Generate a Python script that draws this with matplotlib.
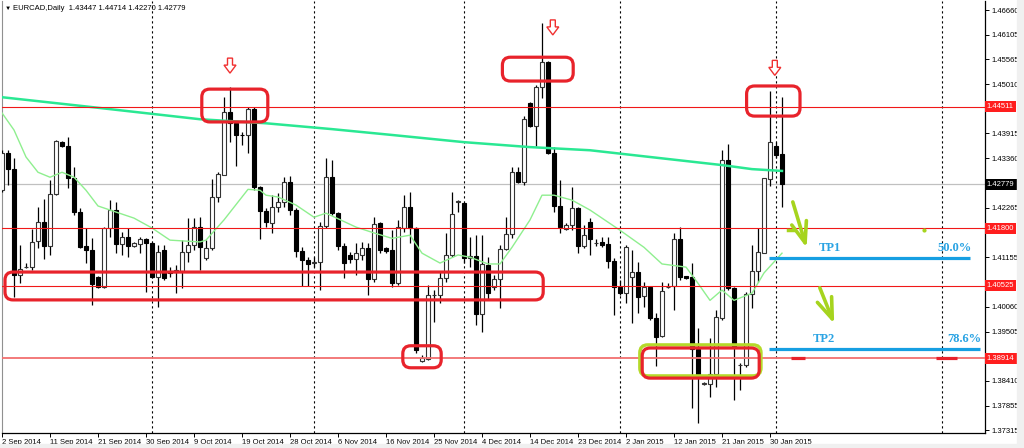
import numpy as np
import matplotlib
matplotlib.use("Agg")
import matplotlib.pyplot as plt
import matplotlib.transforms as mtransforms
from matplotlib.patches import FancyBboxPatch, Polygon, Rectangle

# EURCAD daily candles, 2 Sep 2014 .. 2 Feb 2015 (one bar per trading day, Sun-Fri)
opens = [1.4265, 1.4348, 1.4312, 1.4076, 1.4094, 1.4094, 1.4152, 1.4194, 1.4141, 1.4256,
         1.4372, 1.4363, 1.4292, 1.4216, 1.4141, 1.4132, 1.4072, 1.4049, 1.4181, 1.4221,
         1.4145, 1.4161, 1.4141, 1.4145, 1.4156, 1.4147, 1.4072, 1.4132, 1.4085, 1.4083,
         1.4085, 1.4127, 1.4143, 1.4183, 1.4114, 1.4136, 1.4250, 1.4299, 1.4439, 1.4414,
         1.4389, 1.4388, 1.4445, 1.4272, 1.4218, 1.4192, 1.4227, 1.4239, 1.4283, 1.4221,
         1.4130, 1.4110, 1.4104, 1.4105, 1.4185, 1.4294, 1.4214, 1.4141, 1.4121, 1.4112,
         1.4121, 1.4136, 1.4067, 1.4192, 1.4136, 1.4132, 1.4058, 1.4181, 1.4227, 1.4181,
         1.3885, 1.3889, 1.4031, 1.4032, 1.4069, 1.4121, 1.4239, 1.4236, 1.4114, 1.4118,
         1.3989, 1.4098, 1.4049, 1.4067, 1.4134, 1.4167, 1.4305, 1.4283, 1.4459, 1.4408,
         1.4494, 1.4550, 1.4348, 1.4230, 1.4178, 1.4187, 1.4225, 1.4141, 1.4194, 1.4147,
         1.4150, 1.4145, 1.4107, 1.4049, 1.4036, 1.4072, 1.4083, 1.4029, 1.4049, 1.3980,
         1.3940, 1.4049, 1.4052, 1.4156, 1.4074, 1.4072, 1.3911, 1.3834, 1.3834, 1.3856,
         1.3980, 1.4332, 1.4047, 1.3876, 1.3876, 1.4034, 1.4085, 1.4125, 1.4290, 1.4363,
         1.43447]
highs = [1.4354, 1.4354, 1.4336, 1.4143, 1.4103, 1.4178, 1.4227, 1.4245, 1.4288, 1.4376,
         1.4374, 1.4383, 1.4316, 1.4225, 1.4181, 1.4158, 1.4074, 1.4183, 1.4243, 1.4239,
         1.4172, 1.4181, 1.4150, 1.4161, 1.4158, 1.4150, 1.4143, 1.4143, 1.4094, 1.4098,
         1.4154, 1.4203, 1.4203, 1.4205, 1.4154, 1.4290, 1.4305, 1.4472, 1.4494, 1.4417,
         1.4394, 1.4450, 1.4450, 1.4274, 1.4225, 1.4254, 1.4259, 1.4294, 1.4296, 1.4225,
         1.4138, 1.4116, 1.4116, 1.4194, 1.4336, 1.4332, 1.4216, 1.4147, 1.4127, 1.4147,
         1.4150, 1.4147, 1.4205, 1.4194, 1.4138, 1.4176, 1.4199, 1.4254, 1.4261, 1.4183,
         1.3898, 1.4054, 1.4043, 1.4083, 1.4170, 1.4261, 1.4243, 1.4239, 1.4161, 1.4165,
         1.4165, 1.4116, 1.4076, 1.4143, 1.4205, 1.4316, 1.4316, 1.4430, 1.4461, 1.4499,
         1.4637, 1.4552, 1.4361, 1.4288, 1.4192, 1.4272, 1.4227, 1.4187, 1.4203, 1.4156,
         1.4161, 1.4161, 1.4114, 1.4065, 1.4143, 1.4132, 1.4105, 1.4061, 1.4049, 1.3992,
         1.4061, 1.4058, 1.4170, 1.4183, 1.4074, 1.4103, 1.3958, 1.3838, 1.3936, 1.3998,
         1.4354, 1.4368, 1.4049, 1.3880, 1.4038, 1.4143, 1.4181, 1.4292, 1.4486, 1.4372,
         1.44714]
lows = [1.4261, 1.4276, 1.4027, 1.4058, 1.4092, 1.4087, 1.4136, 1.4112, 1.4121, 1.4254,
        1.4361, 1.4270, 1.4210, 1.4136, 1.4103, 1.4009, 1.4047, 1.4047, 1.4161, 1.4125,
        1.4121, 1.4116, 1.4138, 1.4125, 1.4038, 1.4069, 1.4005, 1.4065, 1.4072, 1.4036,
        1.4047, 1.4105, 1.4132, 1.4087, 1.4110, 1.4132, 1.4239, 1.4299, 1.4372, 1.4319,
        1.4365, 1.4348, 1.4265, 1.4156, 1.4183, 1.4170, 1.4216, 1.4227, 1.4210, 1.4116,
        1.4052, 1.4052, 1.4094, 1.4043, 1.4181, 1.4210, 1.4132, 1.4069, 1.4103, 1.4076,
        1.4110, 1.4032, 1.4061, 1.4125, 1.4125, 1.4049, 1.4054, 1.4172, 1.4147, 1.3903,
        1.3883, 1.3887, 1.3972, 1.4014, 1.4061, 1.4116, 1.4216, 1.4103, 1.4094, 1.3965,
        1.3949, 1.4020, 1.4043, 1.4003, 1.4132, 1.4158, 1.4281, 1.4276, 1.4405, 1.4363,
        1.4470, 1.4345, 1.4216, 1.4170, 1.4176, 1.4176, 1.4125, 1.4136, 1.4121, 1.4141,
        1.4138, 1.4092, 1.3987, 1.4032, 1.4014, 1.3969, 1.3992, 1.4005, 1.3976, 1.3874,
        1.3938, 1.4047, 1.3998, 1.4065, 1.4067, 1.3780, 1.3747, 1.3832, 1.3805, 1.3827,
        1.3976, 1.4043, 1.3798, 1.3820, 1.3871, 1.4003, 1.4061, 1.4125, 1.4274, 1.4336,
        1.42270]
closes = [1.4348, 1.4312, 1.4076, 1.4089, 1.4095, 1.4150, 1.4194, 1.4141, 1.4256, 1.4374,
          1.4363, 1.4292, 1.4216, 1.4138, 1.4132, 1.4056, 1.4049, 1.4181, 1.4221, 1.4145,
          1.4161, 1.4141, 1.4147, 1.4156, 1.4147, 1.4072, 1.4127, 1.4069, 1.4081, 1.4087,
          1.4127, 1.4143, 1.4183, 1.4138, 1.4136, 1.4250, 1.4301, 1.4439, 1.4414, 1.4388,
          1.4387, 1.4445, 1.4272, 1.4218, 1.4194, 1.4227, 1.4239, 1.4283, 1.4221, 1.4130,
          1.4110, 1.4101, 1.4106, 1.4185, 1.4294, 1.4214, 1.4141, 1.4103, 1.4112, 1.4125,
          1.4136, 1.4067, 1.4190, 1.4132, 1.4130, 1.4058, 1.4183, 1.4227, 1.4181, 1.3909,
          1.3891, 1.4032, 1.4032, 1.4069, 1.4121, 1.4212, 1.4240, 1.4114, 1.4118, 1.3989,
          1.4101, 1.4036, 1.4067, 1.4134, 1.4167, 1.4305, 1.4283, 1.4423, 1.4408, 1.4494,
          1.4550, 1.4348, 1.4230, 1.4183, 1.4187, 1.4225, 1.4141, 1.4165, 1.4156, 1.4148,
          1.4143, 1.4107, 1.4049, 1.4036, 1.4138, 1.4083, 1.4027, 1.4049, 1.3980, 1.3938,
          1.4041, 1.4050, 1.4156, 1.4072, 1.4069, 1.3911, 1.3856, 1.3835, 1.3856, 1.3983,
          1.4332, 1.4047, 1.3916, 1.3877, 1.4034, 1.4085, 1.4127, 1.4292, 1.4372, 1.4343,
          1.42779]

# date labels, one every 8 bars
date_labels = ["2 Sep 2014", "11 Sep 2014", "21 Sep 2014", "30 Sep 2014", "9 Oct 2014",
               "19 Oct 2014", "28 Oct 2014", "6 Nov 2014", "16 Nov 2014", "25 Nov 2014",
               "4 Dec 2014", "14 Dec 2014", "23 Dec 2014", "2 Jan 2015", "12 Jan 2015",
               "21 Jan 2015", "30 Jan 2015"]
price_ticks = [1.46660, 1.46105, 1.45565, 1.45010, 1.43915, 1.43360, 1.42265,
               1.41155, 1.40060, 1.39505, 1.38410, 1.37855, 1.37315]

# horizontal levels and current price
levels = [1.44511, 1.41800, 1.40525, 1.38914]
last_price = 1.42779
header = "EURCAD,Daily  1.43447 1.44714 1.42270 1.42779"

# moving averages read at some bars
long_ma_bars = [0, 15, 33, 44, 55, 65, 77, 88, 98, 110, 120, 125, 130]
long_ma = [1.4472, 1.4450, 1.4423, 1.4414, 1.4401, 1.4388, 1.4372, 1.4361, 1.4354,
           1.4336, 1.4321, 1.4312, 1.4308]
short_ma_bars = [0, 2, 4, 6, 8, 10, 12, 14, 16, 18, 22, 25, 28, 33, 34, 37, 41, 43, 44, 46,
                 49, 52, 54, 59, 62, 65, 68, 70, 73, 76, 78, 81, 83, 85, 88, 90, 92, 95, 98, 103,
                 107, 110, 114, 116, 118, 120, 122, 125, 127, 130]
short_ma = [1.4437, 1.4399, 1.4339, 1.4305, 1.4294, 1.4305, 1.4294, 1.4265, 1.4230, 1.4221,
            1.4203, 1.4181, 1.4154, 1.4150, 1.4154, 1.4199, 1.4267, 1.4265, 1.4254, 1.4250,
            1.4232, 1.4205, 1.4214, 1.4183, 1.4170, 1.4158, 1.4165, 1.4125, 1.4103, 1.4121,
            1.4116, 1.4101, 1.4101, 1.4138, 1.4199, 1.4254, 1.4254, 1.4243, 1.4221, 1.4176,
            1.4138, 1.4101, 1.4094, 1.4058, 1.4020, 1.4043, 1.4020, 1.4036, 1.4081, 1.4125]

# fibo take-profit levels
tp_names = ["TP1", "TP2"]
tp_pcts = ["50.0%", "78.6%"]
tp_levels = [1.4114, 1.3911]

W, H = 1024, 448
fig = plt.figure(figsize=(W / 100, H / 100), dpi=100)
fig.patch.set_facecolor("white")
ax = fig.add_axes([2 / W, 15 / H, 983 / W, 432 / H])
ax.set_xlim(0, 983 / 6)
ax.set_ylim(1.372488, 1.468608)
PX_X = (983 / 6) / 983
PX_Y = (1.468608 - 1.372488) / 432

AX_FONT = ["Liberation Sans", "DejaVu Sans"]
RED = "#E8232B"
GREEN_ARROW = "#A6D41E"
BLUE = "#169FE2"

# grey frame outside chart
fig.patches.append(Rectangle((1017 / W, 0), 7 / W, 1, transform=fig.transFigure,
                             color="#F0F0F0", zorder=0))
fig.patches.append(Rectangle((0, 0), 1, 4 / H, transform=fig.transFigure,
                             color="#F0F0F0", zorder=0))

# vertical dotted grid
for gx in [25, 52, 77, 103, 129, 156.7]:
    ax.axvline(gx, color="black", lw=0.8, ls=(0, (2, 2.5)), zorder=1)

# candles
o = np.array(opens)
h = np.array(highs)
l = np.array(lows)
c = np.array(closes)
x = np.arange(len(o))
up = c >= o
ax.vlines(x, l, h, color="black", lw=0.9, zorder=3)
body_lo = np.minimum(o, c)
body_h = np.maximum(np.abs(c - o), PX_Y * 0.5)
ax.bar(x[up], body_h[up], bottom=body_lo[up], width=0.62, color="white",
       edgecolor="#333333", lw=0.8, zorder=4)
ax.bar(x[~up], body_h[~up], bottom=body_lo[~up], width=0.62, color="black",
       edgecolor="black", lw=0.8, zorder=4)

# moving averages
ax.plot(long_ma_bars, long_ma, color="#2AE893", lw=1.8, zorder=5)
ax.plot(short_ma_bars, short_ma, color="#8FEF8F", lw=1.0, zorder=5)

# horizontal levels
for lv in levels[:3]:
    ax.axhline(lv, color="#F01818", lw=0.8, zorder=5)
ax.axhline(levels[3], color="#F27070", lw=1.3, zorder=5)
ax.axhline(last_price, color="#C0C0C0", lw=0.9, zorder=2)


def rounded_box(x0, x1, y0, y1, color, lw=2.3):
    box = FancyBboxPatch((x0, y0), x1 - x0, y1 - y0,
                         boxstyle=f"round,pad=0,rounding_size={8 * PX_X}",
                         mutation_aspect=PX_Y / PX_X, fill=False, ec=color, lw=lw,
                         zorder=7)
    ax.add_patch(box)


rounded_box(33.3, 44.3, 1.4417, 1.4490, RED)
rounded_box(83.4, 95.2, 1.4508, 1.4561, RED)
rounded_box(124.1, 133.0, 1.4430, 1.4497, RED)
rounded_box(0.5, 90.2, 1.4021, 1.4083, RED)
rounded_box(66.8, 73.2, 1.3870, 1.3919, RED)
rounded_box(106.3, 126.5, 1.3852, 1.3921, "#B5DA2A", lw=2.4)
rounded_box(106.7, 126.2, 1.3847, 1.3914, RED)


def down_arrow(bx, top):
    pts = [(-2.5, 0), (2.5, 0), (2.5, 7), (6, 7), (0, 15), (-6, 7), (-2.5, 7)]
    verts = [(bx + px * PX_X, top - py * PX_Y) for px, py in pts]
    ax.add_patch(Polygon(verts, closed=True, fc="white", ec="#F03030", lw=1.0, zorder=7))


down_arrow(38.0, 1.4559)
down_arrow(91.8, 1.4644)
down_arrow(128.8, 1.4554)

# green arrows towards targets
for tail, tip in [((131.8, 1.4239), (134.1, 1.4137)), ((136.3, 1.4048), (138.7, 1.3968))]:
    ax.annotate("", xy=tip, xytext=tail, annotation_clip=False,
                arrowprops=dict(arrowstyle="->,head_length=1.5,head_width=0.55",
                                color=GREEN_ARROW, lw=2.6, shrinkA=0, shrinkB=0),
                zorder=8)
ax.plot([131.0, 131.9], [1.4177, 1.4177], color=GREEN_ARROW, lw=2.5, zorder=8)
ax.plot([153.7], [1.4177], marker="o", ms=2, color=GREEN_ARROW, zorder=8)

# fibo lines with TP labels
tp_end = [161.3, 163.0]
tp_name_x = [138.0, 137.0]
for name, pct, lv, xe, xn in zip(tp_names, tp_pcts, tp_levels, tp_end, tp_name_x):
    ax.plot([127.8, xe], [lv, lv], color=BLUE, lw=2.3, zorder=8, solid_capstyle="butt")
    ax.text(xn, lv + 4 * PX_Y, name, ha="center", va="bottom", color="#2AA3E3",
            fontsize=9, fontweight="bold", family="Liberation Serif", zorder=9)
    ax.text(xe + 0.3, lv + 4 * PX_Y, pct, ha="right", va="bottom", color="#2AA3E3",
            fontsize=9, fontweight="bold", family="Liberation Serif", zorder=9)
for x0, x1 in [(131.5, 133.8), (155.7, 159.2)]:
    ax.plot([x0, x1], [levels[3], levels[3]], color="#E8202A", lw=2.3, zorder=8,
            solid_capstyle="butt")

# axes style
ax.spines["top"].set_visible(False)
ax.spines["left"].set_color("#909090")
ax.spines["right"].set_color("black")
ax.spines["bottom"].set_color("black")
ax.spines["right"].set_linewidth(0.9)
ax.spines["bottom"].set_linewidth(0.9)

ax.yaxis.tick_right()
ax.set_yticks(price_ticks)
ax.set_yticklabels([f"{p:.5f}" for p in price_ticks], family=AX_FONT, fontsize=5.5)
ax.tick_params(axis="y", length=3, width=0.7, pad=1.5, colors="black")
ax.set_xticks(np.arange(len(date_labels)) * 8)
ax.set_xticklabels(date_labels, family=AX_FONT, fontsize=5.5, ha="left")
ax.tick_params(axis="x", length=3, width=0.7, pad=1)

# price boxes on the right scale
trans = mtransforms.blended_transform_factory(ax.transAxes, ax.transData)
for lv in levels:
    ax.text(1.002, lv, f"{lv:.5f}", transform=trans, ha="left", va="center",
            fontsize=5.5, family=AX_FONT, color="white", clip_on=False, zorder=10,
            bbox=dict(boxstyle="square,pad=0.25", fc="#FF1E1E", ec="none"))
ax.text(1.002, last_price, f"{last_price:.5f}", transform=trans, ha="left", va="center",
        fontsize=5.5, family=AX_FONT, color="white", clip_on=False, zorder=10,
        bbox=dict(boxstyle="square,pad=0.25", fc="black", ec="none"))

fig.text(5 / W, 1 - 8 / H, "\u25BC", fontsize=4.5, family=AX_FONT, va="center")
fig.text(13 / W, 1 - 8 / H, header, fontsize=5.5, family=AX_FONT, va="center")

fig.savefig("out.png", dpi=100)
